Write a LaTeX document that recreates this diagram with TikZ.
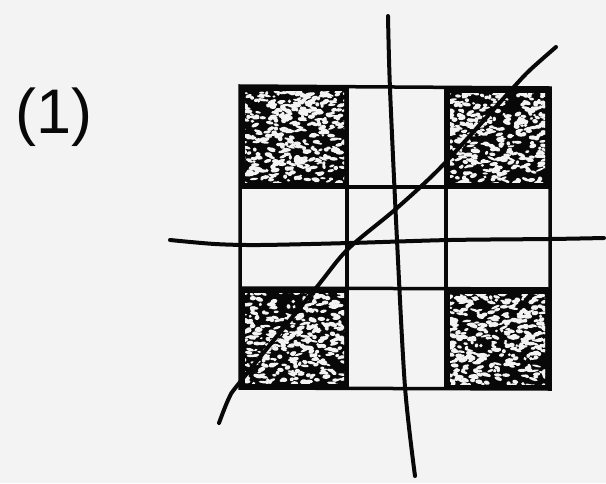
\documentclass[tikz,border=0pt]{standalone}
\usepackage{fontspec}
\setmainfont{Liberation Sans}
\definecolor{bg}{HTML}{F3F3F3}
\definecolor{ink}{HTML}{080808}
\newcommand\stipplecell[4]{%
  \fill[ink] (#1,#2) rectangle (#3,#4);
  \begin{scope}
    \clip (#1+5,#2+5) rectangle (#3-5,#4-5);
    \foreach \k in {1,...,420}{%
      \pgfmathsetmacro\px{#1+(#3-#1)*rnd}%
      \pgfmathsetmacro\py{#2+(#4-#2)*rnd}%
      \pgfmathsetmacro\rw{1.5+3.2*rnd}%
      \pgfmathsetmacro\rh{1.0+1.4*rnd}%
      \pgfmathsetmacro\ra{-25+50*rnd}%
      \fill[bg,rotate around={\ra:(\px,\py)}] (\px,\py) ellipse [x radius=\rw pt, y radius=\rh pt];
    }
  \end{scope}}
\tikzset{
  gridline/.style={draw=ink, line width=3.5pt},
  cutline/.style={draw=ink, line width=4pt, line cap=round, line join=round},
}
\begin{document}
\begin{tikzpicture}[x=1pt,y=-1pt]
\fill[bg] (0,0) rectangle (606,483);
\useasboundingbox (0,0) rectangle (606,483);
\pgfmathsetseed{7}
% dark corner cells
\stipplecell{240}{86}{349}{187}
\stipplecell{445}{88}{550}{187}
\stipplecell{240}{288}{349}{388}
\stipplecell{445}{289}{550}{389}
% grid
\draw[gridline] (240,86) -- (550,88) -- (550,389) -- (240,388) -- cycle;
\draw[gridline] (347,86) -- (347,388);
\draw[gridline] (446,88) -- (446,389);
\draw[gridline] (240,187) -- (550,187);
\draw[gridline] (240,288) -- (550,289);
% cutting lines
\draw[cutline] plot[smooth] coordinates {(388,16) (390,89) (397,240) (405,387) (415,476)};
\draw[cutline] plot[smooth] coordinates {(170,240) (215,244) (260,245) (350,243) (450,240) (550,239) (604,238)};
\draw[cutline] plot[smooth] coordinates {(219,423) (229,398) (240,382) (316,288) (348,249) (397,208) (443,165) (512,89) (530,70) (556,47)};
% label
\node[font=\fontsize{63}{70}\selectfont, inner sep=0pt, text=ink] (lbl) at (54,117) {(1)};
\end{tikzpicture}
\end{document}
